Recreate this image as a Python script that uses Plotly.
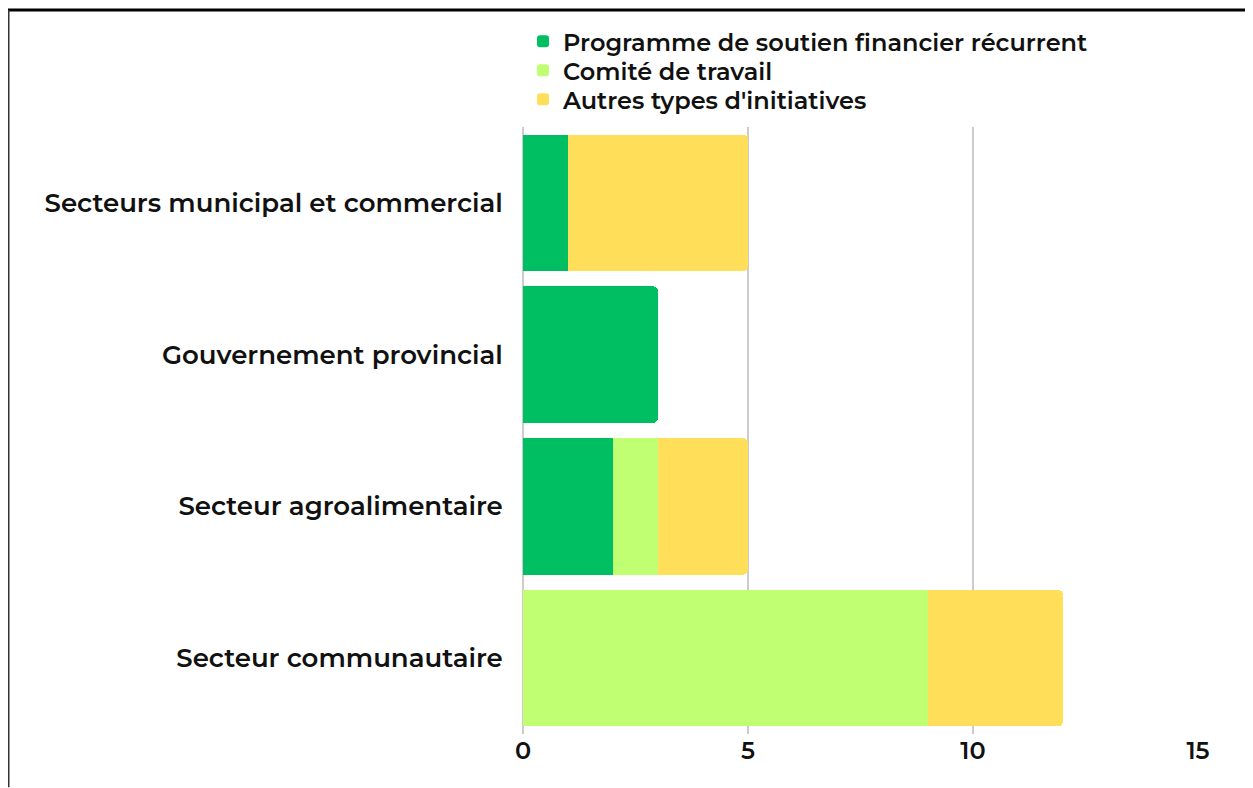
import plotly.graph_objects as go

categories = ["Secteurs municipal et commercial", "Gouvernement provincial",
              "Secteur agroalimentaire", "Secteur communautaire"]
series_names = ["Programme de soutien financier récurrent", "Comité de travail",
                "Autres types d'initiatives"]
programme = [1, 3, 2, 0]
comite = [0, 0, 1, 9]
autres = [4, 0, 2, 3]
colors = ["#00BF63", "#C1FF72", "#FFDE59"]
x_ticks = [0, 5, 10, 15]

# page has an 8px body margin; figure coordinates = page - 8
W, H = 1245, 780
L, T = 515, 117.5
R = W - 1190
B = H - 726.5
pw, ph = W - L - R, H - T - B

font = "Montserrat, 'Open Sans', sans-serif"
FS = 26
FW = 600
LFS = 24

legend_names = ["legend", "legend2", "legend3"]
legend_centers = [33, 62, 91]

fig = go.Figure()
for name, vals, col, lg in zip(series_names, [programme, comite, autres], colors, legend_names):
    fig.add_trace(go.Bar(y=categories, x=vals, name=name, orientation="h", legend=lg,
                         marker=dict(color=col, line=dict(width=0))))

legend_common = dict(x=0, xanchor="left", yanchor="middle",
                     font=dict(family=font, size=LFS, color="#111111", weight=FW),
                     bgcolor="rgba(0,0,0,0)", borderwidth=0)
layout_legends = {}
for lg, cy in zip(legend_names, legend_centers):
    layout_legends[lg] = dict(legend_common, y=1 + (T - cy) / ph)

fig.update_layout(
    width=W, height=H, barmode="stack", bargap=0.1, barcornerradius=5,
    margin=dict(l=L, r=R, t=T, b=B, pad=0),
    plot_bgcolor="white", paper_bgcolor="white",
    font=dict(family=font, size=FS, color="#111111", weight=FW),
    showlegend=True,
    xaxis=dict(range=[0, 15], tickvals=x_ticks, showgrid=True, gridcolor="#CCCCCC",
               gridwidth=1.5, zeroline=True, zerolinecolor="#CCCCCC", zerolinewidth=1.5,
               showline=False, ticks="", tickfont=dict(size=FS - 2, color="#111111", weight=FW)),
    yaxis=dict(categoryorder="array", categoryarray=categories, autorange="reversed",
               showgrid=False, showline=False, ticks="outside", ticklen=14,
               tickcolor="rgba(0,0,0,0)", tickfont=dict(size=FS, color="#111111", weight=FW)),
    **layout_legends,
)

# frame lines (top and left)
x_left = (0 - L) / pw
y_top = 1 + (T - 0) / ph
fig.add_shape(type="line", xref="paper", yref="paper", x0=x_left, x1=(W - L) / pw,
              y0=y_top, y1=y_top, line=dict(color="black", width=3))
fig.add_shape(type="line", xref="paper", yref="paper", x0=x_left, x1=x_left,
              y0=y_top, y1=-B / ph, line=dict(color="#333333", width=3))

fig.write_html("out.html")
